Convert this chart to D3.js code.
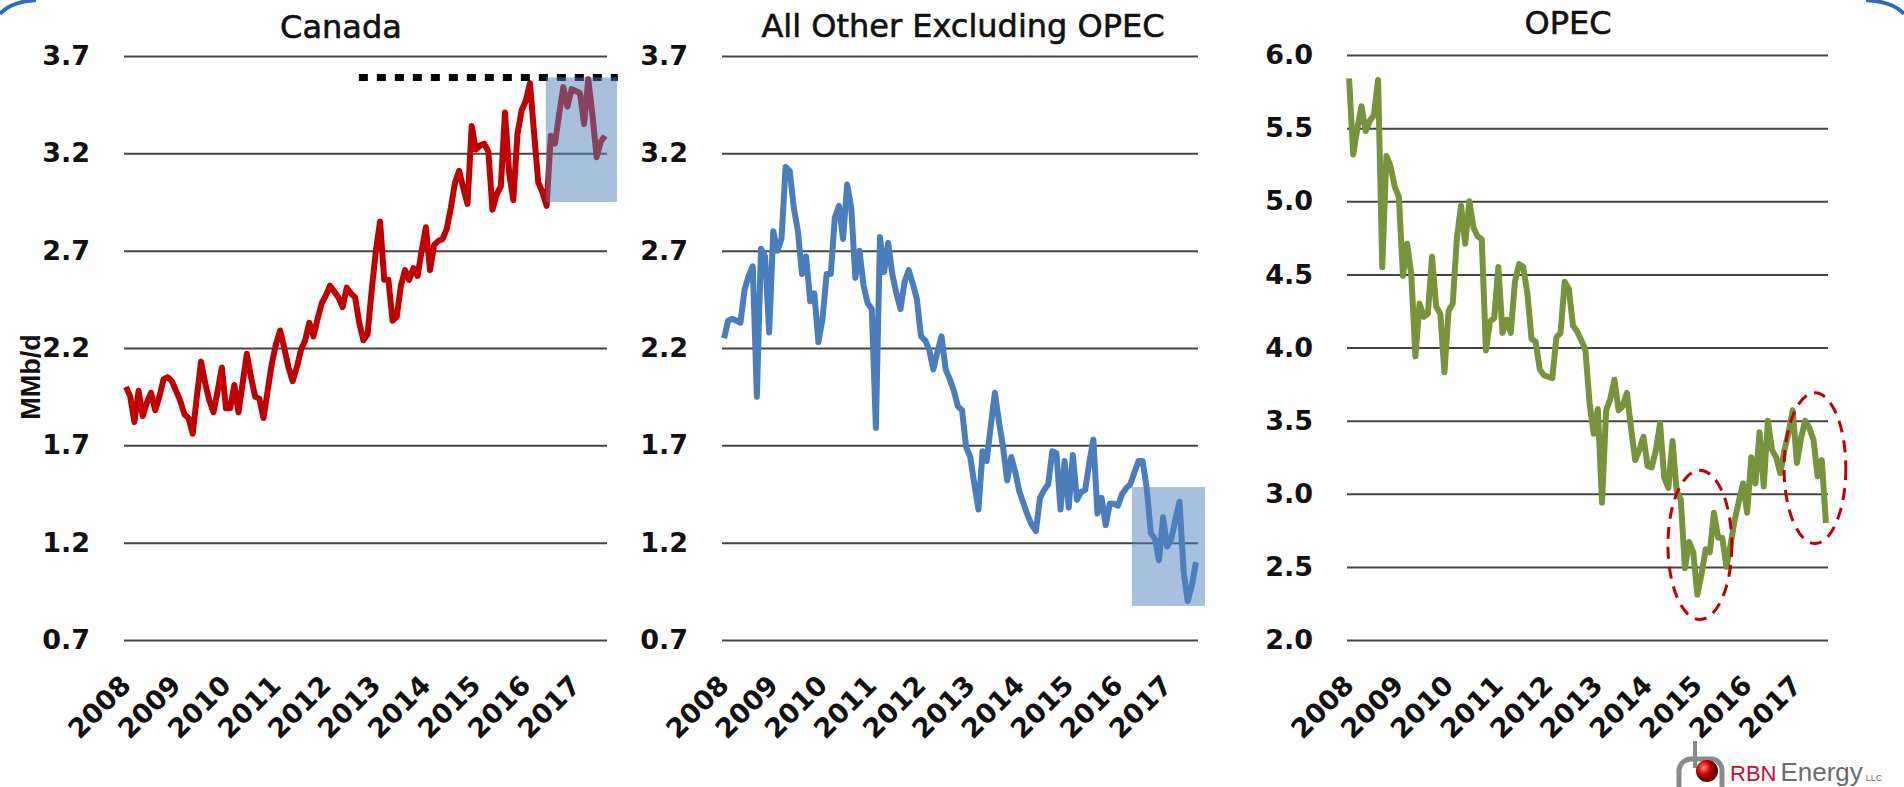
<!DOCTYPE html>
<html>
<head>
<meta charset="utf-8">
<script src="https://cdn.jsdelivr.net/npm/d3@7"></script>
<style>
body { margin: 0; background: #fff; }
svg { display: block; background: #fff; }
.tick text { font-family: "DejaVu Sans", sans-serif; font-weight: bold; font-size: 27px; fill: #111; }
.grid line { stroke: #444; stroke-width: 2; }
.title { font-family: "DejaVu Sans", sans-serif; font-size: 32px; fill: #111; stroke: #111; stroke-width: 0.6; text-anchor: middle; }
.label { font-family: "Liberation Sans", sans-serif; font-weight: bold; font-size: 27px; fill: #111; text-anchor: middle; }
.logo { font-family: "Liberation Sans Narrow", "Liberation Sans", sans-serif; }
</style>
</head>
<body>
<svg id="chart" width="1904" height="787"></svg>
<script>
// monthly, Jan 2008 - Aug 2017, MMb/d
var years = ["2008","2009","2010","2011","2012","2013","2014","2015","2016","2017"];

var canada = [2.00,1.95,1.82,1.98,1.85,1.92,1.97,1.88,1.95,2.04,2.05,2.03,
  1.98,1.93,1.86,1.84,1.76,1.95,2.13,2.02,1.93,1.87,1.98,2.10,
  1.89,1.89,2.01,1.87,2.02,2.17,2.05,1.95,1.94,1.84,1.98,2.12,
  2.22,2.29,2.20,2.10,2.03,2.10,2.19,2.24,2.33,2.26,2.35,2.43,
  2.47,2.52,2.49,2.46,2.41,2.51,2.48,2.46,2.33,2.24,2.27,2.50,
  2.70,2.85,2.55,2.55,2.34,2.36,2.52,2.60,2.55,2.61,2.57,2.70,
  2.82,2.60,2.73,2.75,2.76,2.81,2.92,3.05,3.11,3.02,2.94,3.34,
  3.22,3.24,3.25,3.21,2.91,2.99,3.03,3.41,3.10,2.96,3.30,3.42,
  3.47,3.56,3.30,3.05,3.00,2.93,3.29,3.25,3.40,3.54,3.44,3.53,
  3.52,3.51,3.35,3.58,3.40,3.18,3.26,3.29];

var allOther = [2.25,2.34,2.35,2.34,2.33,2.50,2.57,2.62,1.95,2.71,2.67,2.28,
  2.80,2.70,2.76,3.13,3.11,2.92,2.80,2.58,2.67,2.44,2.48,2.23,
  2.35,2.58,2.58,2.87,2.93,2.76,3.04,2.92,2.56,2.70,2.52,2.43,
  2.40,1.79,2.77,2.59,2.74,2.58,2.48,2.40,2.54,2.60,2.53,2.45,
  2.26,2.24,2.19,2.09,2.18,2.26,2.09,2.04,1.98,1.90,1.88,1.69,
  1.64,1.50,1.37,1.67,1.62,1.80,1.97,1.82,1.69,1.52,1.64,1.56,
  1.46,1.40,1.34,1.29,1.26,1.43,1.47,1.50,1.67,1.66,1.37,1.62,
  1.38,1.65,1.42,1.46,1.47,1.61,1.73,1.35,1.43,1.29,1.40,1.40,
  1.39,1.45,1.48,1.50,1.56,1.62,1.62,1.48,1.25,1.22,1.11,1.33,
  1.18,1.22,1.32,1.41,1.05,0.90,0.98,1.10];

var opec = [5.84,5.32,5.50,5.65,5.48,5.55,5.59,5.83,4.55,5.31,5.24,5.10,
  5.03,4.49,4.71,4.50,3.94,4.30,4.21,4.23,4.62,4.28,4.23,3.83,
  4.25,4.30,4.75,4.97,4.71,5.00,4.82,4.76,4.74,3.98,4.18,4.20,
  4.55,4.10,4.19,4.10,4.45,4.57,4.55,4.37,4.06,4.04,3.85,3.81,
  3.80,3.79,4.07,4.10,4.45,4.40,4.15,4.11,4.05,3.98,3.62,3.41,
  3.58,2.94,3.57,3.65,3.78,3.57,3.60,3.69,3.45,3.23,3.30,3.39,
  3.19,3.18,3.30,3.48,3.11,3.04,3.36,3.02,2.96,2.49,2.67,2.60,
  2.31,2.45,2.62,2.60,2.87,2.70,2.70,2.50,2.65,2.82,2.95,3.07,
  2.87,3.25,3.07,3.42,3.05,3.50,3.30,3.25,3.14,3.30,3.42,3.57,
  3.21,3.38,3.50,3.45,3.37,3.12,3.23,2.80];

var lowTicks = [0.7,1.2,1.7,2.2,2.7,3.2,3.7];
var opecTicks = [2.0,2.5,3.0,3.5,4.0,4.5,5.0,5.5,6.0];

// annotations: [month from, month to, value low, value high]
var canadaBox = [100.8, 117.9, 2.95, 3.59];
var canadaPeak = [55.9, 118.1, 3.59];
var allOtherBox = [99.4, 117.2, 0.875, 1.486];
var opecCircles = [[76.9, 92.3, 2.14, 3.16], [104.9, 119.8, 2.66, 3.69]];

var svg = d3.select("#chart");

var panel = function(svg, cfg) {
    var n = cfg.data.length;
    var x = d3.scaleLinear().domain([-0.5, n - 0.5]).range([cfg.left, cfg.right]);
    var y = d3.scaleLinear().domain(cfg.domain).range([640, cfg.top]);

    svg.append("g")
        .attr("class", "grid")
        .attr("transform", "translate(" + cfg.left + ",0)")
        .call(d3.axisLeft(y).tickValues(cfg.ticks).tickSize(-(cfg.right - cfg.left)).tickPadding(34).tickFormat(d3.format(".1f")))
        .call(function(g) { g.select(".domain").remove(); });

    svg.append("g")
        .attr("transform", "translate(0,640)")
        .call(d3.axisBottom(x).tickValues(d3.range(0, n, 12)).tickSize(0).tickFormat(function(d, i) { return years[i]; }))
        .call(function(g) { g.select(".domain").remove(); })
        .selectAll("text")
        .attr("y", 0)
        .attr("dy", 0)
        .attr("transform", "translate(6,47) rotate(-45)")
        .style("text-anchor", "end");

    svg.append("path")
        .datum(cfg.data)
        .attr("fill", "none")
        .attr("stroke", cfg.color)
        .attr("stroke-width", 6)
        .attr("stroke-linejoin", "round")
        .attr("d", d3.line().x(function(d, i) { return x(i); }).y(function(d) { return y(d); }));

    svg.append("text")
        .attr("class", "title")
        .attr("x", cfg.titleX)
        .attr("y", cfg.titleY)
        .text(cfg.title);

    return [x, y];
};

var sc = panel(svg, {data: canada, left: 124, right: 607, top: 56, domain: [0.7, 3.7], ticks: lowTicks,
    color: "#C00000", title: "Canada", titleX: 341, titleY: 38});
var x = sc[0], y = sc[1];

svg.append("line")
    .attr("x1", x(canadaPeak[0])).attr("x2", x(canadaPeak[1]))
    .attr("y1", y(canadaPeak[2])).attr("y2", y(canadaPeak[2]))
    .attr("stroke", "#000").attr("stroke-width", 7).attr("stroke-dasharray", "9,9");

svg.append("rect")
    .attr("x", x(canadaBox[0])).attr("width", x(canadaBox[1]) - x(canadaBox[0]))
    .attr("y", y(canadaBox[3])).attr("height", y(canadaBox[2]) - y(canadaBox[3]))
    .attr("fill", "rgba(79,129,189,0.5)");

svg.append("text")
    .attr("class", "label")
    .attr("transform", "translate(40,377) rotate(-90)")
    .text("MMb/d");

sc = panel(svg, {data: allOther, left: 722, right: 1198, top: 56, domain: [0.7, 3.7], ticks: lowTicks,
    color: "#4A7DBB", title: "All Other Excluding OPEC", titleX: 963, titleY: 37});
x = sc[0]; y = sc[1];

svg.append("rect")
    .attr("x", x(allOtherBox[0])).attr("width", x(allOtherBox[1]) - x(allOtherBox[0]))
    .attr("y", y(allOtherBox[3])).attr("height", y(allOtherBox[2]) - y(allOtherBox[3]))
    .attr("fill", "rgba(79,129,189,0.5)");

sc = panel(svg, {data: opec, left: 1347, right: 1828, top: 55, domain: [2.0, 6.0], ticks: opecTicks,
    color: "#77933C", title: "OPEC", titleX: 1568, titleY: 34});
x = sc[0]; y = sc[1];

svg.selectAll(".circle")
    .data(opecCircles)
    .enter().append("ellipse")
    .attr("class", "circle")
    .attr("cx", function(d) { return (x(d[0]) + x(d[1])) / 2; })
    .attr("cy", function(d) { return (y(d[2]) + y(d[3])) / 2; })
    .attr("rx", function(d) { return (x(d[1]) - x(d[0])) / 2; })
    .attr("ry", function(d) { return (y(d[2]) - y(d[3])) / 2; })
    .attr("fill", "none")
    .attr("stroke", "#C00000")
    .attr("stroke-width", 3)
    .attr("stroke-dasharray", "12,8");

// corner swooshes of the slide
svg.append("path").attr("d", "M0,14 Q10,2 36,0").attr("fill", "none").attr("stroke", "#2E6DB4").attr("stroke-width", 4);
svg.append("path").attr("d", "M1866,0 Q1894,2 1904,14").attr("fill", "none").attr("stroke", "#2E6DB4").attr("stroke-width", 4);

// RBN logo
var defs = svg.append("defs");
var grad = defs.append("radialGradient").attr("id", "ball").attr("cx", "35%").attr("cy", "35%");
grad.append("stop").attr("offset", "0%").attr("stop-color", "#ff8080");
grad.append("stop").attr("offset", "60%").attr("stop-color", "#d00000");
grad.append("stop").attr("offset", "100%").attr("stop-color", "#700000");

var logo = svg.append("g");
logo.append("path")
    .attr("d", "M1679,787 L1679,772 A12,12 0 0 1 1691,759 L1711,759 A11,11 0 0 1 1722,770 L1722,787")
    .attr("fill", "none").attr("stroke", "#8a8a8a").attr("stroke-width", 5);
logo.append("line").attr("x1", 1695).attr("x2", 1695).attr("y1", 741).attr("y2", 768)
    .attr("stroke", "#8a8a8a").attr("stroke-width", 4);
logo.append("circle").attr("cx", 1707).attr("cy", 771).attr("r", 11).attr("fill", "url(#ball)");
var logoText = logo.append("text").attr("class", "logo").attr("x", 1730).attr("y", 781);
logoText.append("tspan").style("font-size", "22px").attr("fill", "#C8102E").text("RBN");
logoText.append("tspan").attr("dx", 4).style("font-size", "26px").attr("fill", "#6b6b6b").text("Energy");
logoText.append("tspan").attr("dx", 3).style("font-size", "9px").attr("fill", "#6b6b6b").text("LLC");
</script>
</body>
</html>
